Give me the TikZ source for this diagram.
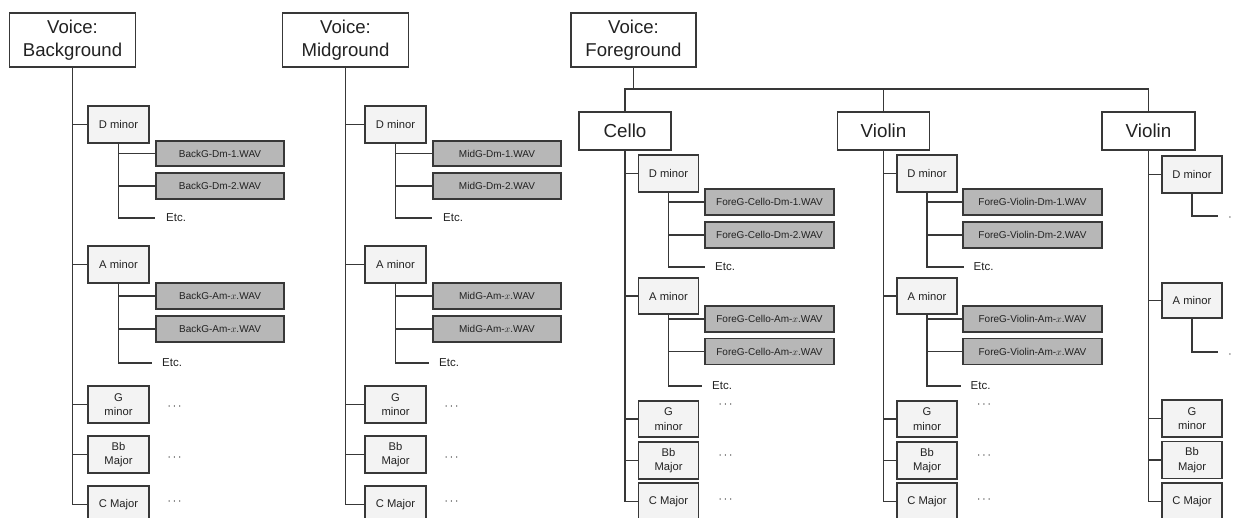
\documentclass[tikz,border=0pt]{standalone}
\usepackage{fontspec}
\setmainfont{Liberation Sans}
\definecolor{ln}{HTML}{383838}
\definecolor{keyfill}{HTML}{F3F3F3}
\definecolor{wavfill}{HTML}{B7B7B7}
\definecolor{txt}{HTML}{222222}
\tikzset{
  every node/.style={inner sep=0pt, text=txt},
  box/.style={draw=ln, line width=1.5pt},
  voicebox/.style={box, fill=white, align=center, font=\fontsize{18.6}{23}\selectfont, minimum height=54pt},
  instbox/.style={box, fill=white, align=center, font=\fontsize{18.8}{22}\selectfont, minimum height=38pt},
  keybox/.style={box, fill=keyfill, align=center, font=\fontsize{11.2}{14.5}\selectfont, minimum width=61pt, minimum height=37pt},
  wavbox/.style={box, fill=wavfill, font=\fontsize{10}{12}\selectfont, minimum height=26pt},
  etclabel/.style={anchor=west, font=\fontsize{11.5}{13}\selectfont},
  dotlabel/.style={font=\fontsize{12}{13}\selectfont},
  conn/.style={draw=ln, line width=1.5pt}
}
% #1 prefix, #2 header centre x, #3 item offset, #4 voice name, #5 file prefix
\newcommand\leftcolumn[5]{%
  \node[voicebox, minimum width=126pt] (#1) at (#2,40) {Voice:\\#4};
  \node[keybox] (#1dm) at ({#3+118.5},124.5) {D minor};
  \node[wavbox, minimum width=128pt, minimum height=25pt] (#1wa) at ({#3+220},153.5) {#5-Dm-1.WAV};
  \node[wavbox, minimum width=128pt] (#1wb) at ({#3+220},186) {#5-Dm-2.WAV};
  \coordinate (#1ea) at ({#3+155},218);
  \node[etclabel] (#1ta) at ({#3+166},218) {Etc.};
  \node[keybox] (#1am) at ({#3+118.5},264.5) {A minor};
  \node[wavbox, minimum width=128pt] (#1wc) at ({#3+220},296) {#5-Am-$x$.WAV};
  \node[wavbox, minimum width=128pt] (#1wd) at ({#3+220},329) {#5-Am-$x$.WAV};
  \coordinate (#1eb) at ({#3+152},363);
  \node[etclabel] (#1tb) at ({#3+162},363) {Etc.};
  \node[keybox] (#1gm) at ({#3+118.5},404.5) {G\\minor};
  \node[keybox] (#1bb) at ({#3+118.5},454.5) {Bb\\Major};
  \node[keybox] (#1cm) at ({#3+118.5},504.5) {C Major};
  \node[dotlabel] (#1da) at ({#3+174.5},407) {$\cdots$};
  \node[dotlabel] (#1db) at ({#3+174.5},458) {$\cdots$};
  \node[dotlabel] (#1dc) at ({#3+174.5},502) {$\cdots$};
  \draw[conn] (#1.south) |- (#1dm.west);
  \draw[conn] (#1.south) |- (#1am.west);
  \draw[conn] (#1.south) |- (#1gm.west);
  \draw[conn] (#1.south) |- (#1bb.west);
  \draw[conn] (#1.south) |- (#1cm.west);
  \draw[conn] (#1dm.south) |- (#1wa.west);
  \draw[conn] (#1dm.south) |- (#1wb.west);
  \draw[conn] (#1dm.south) |- (#1ea);
  \draw[conn] (#1am.south) |- (#1wc.west);
  \draw[conn] (#1am.south) |- (#1wd.west);
  \draw[conn] (#1am.south) |- (#1eb);
}
% #1 prefix, #2 instrument centre x, #3 item offset (relative to Cello), #4 instrument, #5 wav width, #6 wav centre x
\newcommand\instcolumn[6]{%
  \node[instbox, minimum width=92pt] (#1) at (#2,131) {#4};
  \node[keybox, minimum width=60pt] (#1dm) at ({#3+668.5},173.5) {D minor};
  \node[wavbox, minimum width=#5pt] (#1wa) at (#6,202) {ForeG-#4-Dm-1.WAV};
  \node[wavbox, minimum width=#5pt] (#1wb) at (#6,235) {ForeG-#4-Dm-2.WAV};
  \coordinate (#1ea) at ({#3+705},267);
  \node[etclabel] (#1ta) at ({#3+715},267) {Etc.};
  \node[keybox, minimum width=60pt, minimum height=36pt] (#1am) at ({#3+668.5},296) {A minor};
  \node[wavbox, minimum width=#5pt] (#1wc) at (#6,319) {ForeG-#4-Am-$x$.WAV};
  \node[wavbox, minimum width=#5pt] (#1wd) at (#6,351.5) {ForeG-#4-Am-$x$.WAV};
  \coordinate (#1eb) at ({#3+702},386);
  \node[etclabel] (#1tb) at ({#3+712},386) {Etc.};
  \node[keybox, minimum width=60pt, minimum height=36pt] (#1gm) at ({#3+668.5},419) {G\\minor};
  \node[keybox, minimum width=60pt] (#1bb) at ({#3+668.5},460.5) {Bb\\Major};
  \node[keybox, minimum width=60pt] (#1cm) at ({#3+668.5},501.5) {C Major};
  \node[dotlabel] (#1da) at ({#3+725.5},405) {$\cdots$};
  \node[dotlabel] (#1db) at ({#3+725.5},456) {$\cdots$};
  \node[dotlabel] (#1dc) at ({#3+725.5},499.5) {$\cdots$};
  \draw[conn] (#1.south) |- (#1dm.west);
  \draw[conn] (#1.south) |- (#1am.west);
  \draw[conn] (#1.south) |- (#1gm.west);
  \draw[conn] (#1.south) |- (#1bb.west);
  \draw[conn] (#1.south) |- (#1cm.west);
  \draw[conn] (#1dm.south) |- (#1wa.west);
  \draw[conn] (#1dm.south) |- (#1wb.west);
  \draw[conn] (#1dm.south) |- (#1ea);
  \draw[conn] (#1am.south) |- (#1wc.west);
  \draw[conn] (#1am.south) |- (#1wd.west);
  \draw[conn] (#1am.south) |- (#1eb);
}
\begin{document}
\begin{tikzpicture}[x=1pt, y=-1pt]
  \clip (0,0) rectangle (1234,518);
  \fill[white] (0,0) rectangle (1234,518);
  \leftcolumn{b}{72.5}{0}{Background}{BackG}
  \leftcolumn{m}{345.5}{277}{Midground}{MidG}
  % Foreground
  \node[voicebox, minimum width=125pt] (f) at (633.5,40) {Voice:\\Foreground};
  \coordinate (fj) at (633.5,89);
  \instcolumn{c}{625}{0}{Cello}{129}{769.5}
  \instcolumn{v}{883.5}{258.5}{Violin}{139}{1032.5}
  \draw[conn] (f.south) -- (fj);
  \draw[conn] (c.north) |- (fj);
  \draw[conn] (v.north) |- (fj);
  % second Violin (cut off at the right edge)
  \node[instbox, minimum width=93pt] (u) at (1148.5,131) {Violin};
  \draw[conn] (u.north) |- (fj);
  \node[keybox, minimum width=60pt] (udm) at (1192,174.5) {D minor};
  \coordinate (uea) at (1218,216);
  \node[dotlabel] (uta) at (1230,218) {$\cdot$};
  \node[keybox, minimum width=60pt, minimum height=35pt] (uam) at (1192,300.5) {A minor};
  \coordinate (ueb) at (1218,352);
  \node[dotlabel] (utb) at (1230,355) {$\cdot$};
  \node[keybox, minimum width=60pt] (ugm) at (1192,418.5) {G\\minor};
  \node[keybox, minimum width=60pt] (ubb) at (1192,460) {Bb\\Major};
  \node[keybox, minimum width=60pt] (ucm) at (1192,501.5) {C Major};
  \draw[conn] (u.south) |- (udm.west);
  \draw[conn] (u.south) |- (uam.west);
  \draw[conn] (u.south) |- (ugm.west);
  \draw[conn] (u.south) |- (ubb.west);
  \draw[conn] (u.south) |- (ucm.west);
  \draw[conn] (udm.south) |- (uea);
  \draw[conn] (uam.south) |- (ueb);
\end{tikzpicture}
\end{document}
